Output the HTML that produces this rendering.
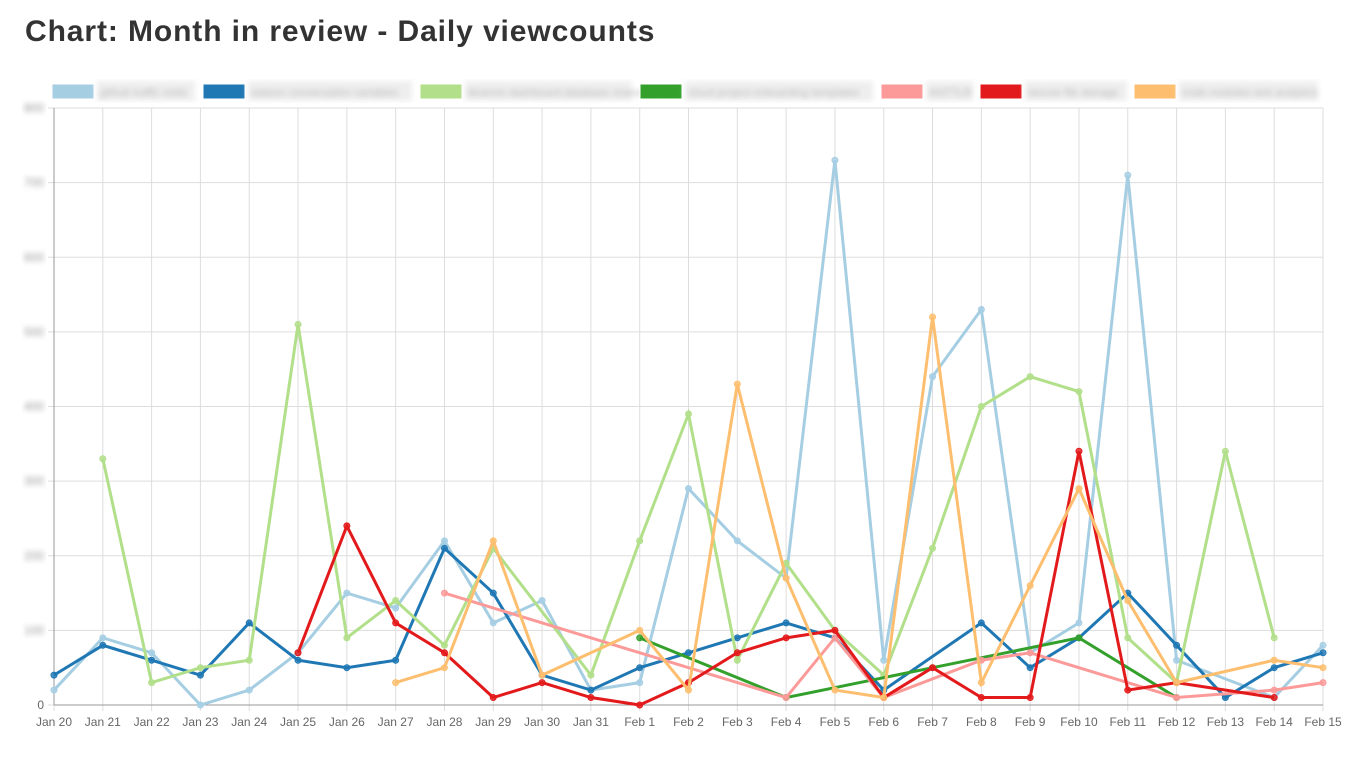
<!DOCTYPE html>
<html><head><meta charset="utf-8"><style>
html,body{margin:0;padding:0;background:#fff;width:1368px;height:757px;overflow:hidden;font-family:"Liberation Sans",sans-serif}
h1{position:absolute;left:25px;top:15px;margin:0;font-size:30px;font-weight:bold;color:#333;letter-spacing:0.9px}
</style></head><body>
<h1>Chart: Month in review - Daily viewcounts</h1>
<svg id="chart" width="1368" height="757" style="position:absolute;left:0;top:0">
<defs><filter id="bl"><feGaussianBlur stdDeviation="2.6"/></filter></defs>
</svg>
<script>
const categories=["Jan 20","Jan 21","Jan 22","Jan 23","Jan 24","Jan 25","Jan 26","Jan 27","Jan 28","Jan 29","Jan 30","Jan 31","Feb 1","Feb 2","Feb 3","Feb 4","Feb 5","Feb 6","Feb 7","Feb 8","Feb 9","Feb 10","Feb 11","Feb 12","Feb 13","Feb 14","Feb 15"];
const yTicks=[0,100,200,300,400,500,600,700,800];
const seriesNames=["github traffic visits","watson conversation variables","bluemix dashboard database research","cloud project onboarding templates","ANTTLR","secure file storage","node modules test analytics"];
const seriesColors=["#a6cee3","#1f78b4","#b2df8a","#33a02c","#fb9a99","#e31a1c","#fdbf6f"];
const s1=[20,90,70,0,20,70,150,130,220,110,140,20,30,290,220,170,730,60,440,530,70,110,710,60,null,10,80];
const s2=[40,80,60,40,110,60,50,60,210,150,40,20,50,70,90,110,90,20,null,110,50,90,150,80,10,50,70];
const s3=[null,330,30,50,60,510,90,140,80,210,null,40,220,390,60,190,100,40,210,400,440,420,90,30,340,90,null];
const s4=[null,null,null,null,null,null,null,null,null,null,null,null,90,null,null,10,null,null,50,null,null,90,null,10,null,null,null];
const s5=[null,null,null,null,null,null,null,null,150,null,null,null,null,null,null,10,90,10,null,60,70,null,null,10,null,20,30];
const s6=[null,null,null,null,null,70,240,110,70,10,30,10,0,30,70,90,100,10,50,10,10,340,20,30,null,10,null];
const s7=[null,null,null,null,null,null,null,30,50,220,40,null,100,20,430,170,20,10,520,30,160,290,140,30,null,60,50];
const allSeries=[s1,s2,s3,s4,s5,s6,s7];
const svg=document.getElementById('chart');const NS='http://www.w3.org/2000/svg';
const X0=54,X1=1323,Y0=705,Y1=108,YMAX=800;
const xs=i=>X0+(X1-X0)*i/(categories.length-1);
const ys=v=>Y0-(Y0-Y1)*v/YMAX;
function mk(t,a,p){const e=document.createElementNS(NS,t);for(const k in a)e.setAttribute(k,a[k]);(p||svg).appendChild(e);return e;}
yTicks.forEach((t,i)=>{const l=mk('line',{x1:X0-6,x2:X1,y1:ys(t),y2:ys(t),stroke:'#ddd','stroke-width':1});


const tx=mk('text',{x:X0-10,y:ys(t)+4,'text-anchor':'end','font-size':12,fill:t===0?'#666':'#999',filter:t===0?'':'url(#bl)'});tx.textContent=t;

});
categories.forEach((c,i)=>{const l=mk('line',{x1:xs(i),x2:xs(i),y1:Y1,y2:Y0+6,stroke:'#ddd','stroke-width':1});


const tx=mk('text',{x:xs(i),y:Y0+21,'text-anchor':'middle','font-size':12,fill:'#666'});tx.textContent=c;

});
const ax=mk('line',{x1:X0,x2:X0,y1:Y1,y2:Y0,stroke:'#999','stroke-width':1});


const bx=mk('line',{x1:X0,x2:X1,y1:Y0,y2:Y0,stroke:'#999','stroke-width':1});


allSeries.forEach((s,k)=>{const g=mk('g',{});


let pts=[];s.forEach((v,i)=>{if(v!==null)pts.push([xs(i),ys(v)]);});
const p=mk('polyline',{points:pts.map(q=>q.join(',')).join(' '),fill:'none',stroke:seriesColors[k],'stroke-width':3,'stroke-linejoin':'miter'},g);


pts.forEach(q=>{const c=mk('circle',{cx:q[0],cy:q[1],r:3,fill:seriesColors[k],stroke:seriesColors[k],'stroke-width':1,'fill-opacity':0.8},g);

});});
const legX=[52,203,420,640,881,980,1134],legW=[143,209,212,233,92,147,184];
seriesNames.forEach((n,k)=>{const g=mk('g',{});


mk('rect',{x:legX[k],y:84,width:42,height:15,fill:seriesColors[k],stroke:'#fff','stroke-width':1},g);
mk('rect',{x:legX[k]+45,y:81,width:legW[k]-45,height:20,fill:'#eee',filter:'url(#bl)'},g);
const t=mk('text',{x:legX[k]+48,y:96,'font-size':11,fill:'#bbb',filter:'url(#bl)'},g);t.textContent=n;});
</script>
</body></html>
